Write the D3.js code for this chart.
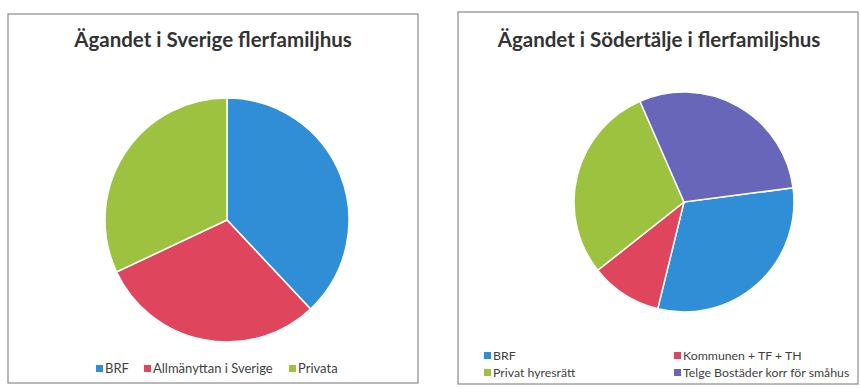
<!DOCTYPE html>
<html><head><meta charset="utf-8">
<script src="https://cdn.jsdelivr.net/npm/d3@7"></script>
<style>body{margin:0;background:#fff}svg{display:block}</style>
</head><body>
<svg id="c" width="860" height="388"></svg>
<script>
const sverigeCategories = ["BRF", "Allmänyttan i Sverige", "Privata"];
const sverigeValues = [38, 30, 32];
const sodertaljeCategories = ["BRF", "Kommunen + TF + TH", "Privat hyresrätt", "Telge Bostäder korr för småhus"];
const sodertaljeValues = [30.9, 10.5, 29.1, 29.5];
const titles = ["Ägandet i Sverige flerfamiljhus", "Ägandet i Södertälje i flerfamiljshus"];

const colorsA = ["#2f8ed6", "#e0455e", "#9cc23f"];
const colorsB = ["#2f8ed6", "#e0455e", "#9cc23f", "#6866b8"];
const font = "Lato, 'Open Sans', sans-serif";
const svg = d3.select("#c");

function panel(cfg) {
  const g = svg.append("g");
  g.append("rect").attr("x", cfg.box[0]).attr("y", cfg.box[1]).attr("width", cfg.box[2]).attr("height", cfg.box[3])
    .attr("fill", "#fff").attr("stroke", "#8a8a8a").attr("stroke-width", 1.2);
  g.append("text").attr("x", cfg.tx).attr("y", cfg.ty).attr("text-anchor", "middle")
    .attr("font-family", font).attr("font-weight", "bold").attr("font-size", 20.5).attr("fill", "#333")
    .text(cfg.title);
  const color = d3.scaleOrdinal().domain(cfg.cats).range(cfg.colors);
  const pie = d3.pie().sort(null).startAngle(cfg.start).endAngle(cfg.start + 2 * Math.PI);
  const arc = d3.arc().innerRadius(0).outerRadius(cfg.r);
  const data = cfg.vals.map((v, i) => ({cat: cfg.cats[i], v}));
  g.append("g").attr("transform", `translate(${cfg.cx},${cfg.cy})`)
    .selectAll("path").data(pie.value(d => d.v)(data)).join("path")
    .attr("d", arc).attr("fill", d => color(d.data.cat)).attr("stroke", "#fff").attr("stroke-width", 1.5);
  const lg = g.append("g");
  cfg.cats.forEach((c, i) => {
    const [x, y] = cfg.legendPos[i];
    lg.append("rect").attr("x", x).attr("y", y - 8).attr("width", 7).attr("height", 7).attr("fill", color(c));
    lg.append("text").attr("x", x + 9).attr("y", y).attr("font-family", font).attr("font-size", cfg.lfs)
      .attr("fill", "#3f3f3f").text(c);
  });
}

panel({box: [8, 14, 410, 369], title: titles[0], tx: 213, ty: 47, cats: sverigeCategories, vals: sverigeValues,
  colors: colorsA, cx: 227, cy: 220, r: 122, start: 0, lfs: 13,
  legendPos: [[96, 373], [144, 373], [289, 373]]});
panel({box: [458, 12, 400, 372], title: titles[1], tx: 659, ty: 47, cats: sodertaljeCategories, vals: sodertaljeValues,
  colors: colorsB, cx: 684, cy: 202, r: 110, start: 82.6 * Math.PI / 180, lfs: 12.3,
  legendPos: [[484, 360], [674, 360], [484, 377], [674, 377]]});
</script>
</body></html>
